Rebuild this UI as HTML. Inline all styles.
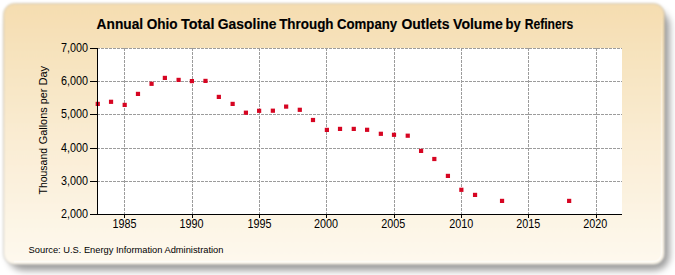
<!DOCTYPE html>
<html><head><meta charset="utf-8"><style>
html,body{margin:0;padding:0;background:#fff;width:675px;height:275px;overflow:hidden}
svg{display:block}
text{font-family:"Liberation Sans",sans-serif;fill:#000}
</style></head><body>
<svg width="675" height="275" viewBox="0 0 675 275">
<defs>
<linearGradient id="hl" gradientUnits="userSpaceOnUse" x1="0" y1="14" x2="0" y2="80"><stop offset="0" stop-color="#fff" stop-opacity="0"/><stop offset="1" stop-color="#fff" stop-opacity="0.45"/></linearGradient>
<linearGradient id="bg" x1="0" y1="0" x2="0" y2="1">
<stop offset="0" stop-color="#F5DDB0"/>
<stop offset="0.55" stop-color="#FAEDD5"/>
<stop offset="1" stop-color="#FEF9EE"/>
</linearGradient>
<filter id="sh" x="-5%" y="-10%" width="115%" height="125%">
<feGaussianBlur stdDeviation="3.5"/>
</filter>
<filter id="soft2" x="-2%" y="-2%" width="104%" height="104%"><feGaussianBlur stdDeviation="0.7"/></filter>
<filter id="soft" x="-2%" y="-2%" width="104%" height="104%"><feGaussianBlur stdDeviation="1.2"/></filter>
</defs>
<rect x="0" y="0" width="675" height="275" fill="#fff"/>
<rect x="8.5" y="10.5" width="661" height="260" rx="15" ry="15" fill="#000" fill-opacity="0.39" filter="url(#sh)"/>
<rect x="3.5" y="3.5" width="661" height="261" rx="11" ry="11" fill="url(#bg)" stroke="#8c8c8c" stroke-opacity="0.4" stroke-width="1" filter="url(#soft)"/>
<path d="M 661.5 14 L 661.5 252 Q 661.5 261.5 652 261.5 L 14 261.5" fill="none" stroke="url(#hl)" stroke-opacity="1" stroke-width="1.4" filter="url(#soft2)"/>
<rect x="98" y="48" width="524" height="166" fill="#fff"/>
<g stroke="#9c9c9c" stroke-width="1" stroke-dasharray="3 1" shape-rendering="crispEdges"><line x1="97" y1="48.5" x2="622" y2="48.5"/><line x1="97" y1="81.5" x2="622" y2="81.5"/><line x1="97" y1="114.5" x2="622" y2="114.5"/><line x1="97" y1="148.5" x2="622" y2="148.5"/><line x1="97" y1="181.5" x2="622" y2="181.5"/><line x1="124.5" y1="48" x2="124.5" y2="215"/><line x1="192.5" y1="48" x2="192.5" y2="215"/><line x1="259.5" y1="48" x2="259.5" y2="215"/><line x1="326.5" y1="48" x2="326.5" y2="215"/><line x1="394.5" y1="48" x2="394.5" y2="215"/><line x1="461.5" y1="48" x2="461.5" y2="215"/><line x1="528.5" y1="48" x2="528.5" y2="215"/><line x1="596.5" y1="48" x2="596.5" y2="215"/></g>
<g fill="#D60522"><rect x="95.65" y="101.80" width="4.2" height="4.2"/><rect x="108.94" y="99.70" width="4.2" height="4.2"/><rect x="122.59" y="102.80" width="4.2" height="4.2"/><rect x="135.88" y="91.80" width="4.2" height="4.2"/><rect x="149.47" y="81.70" width="4.2" height="4.2"/><rect x="162.77" y="75.80" width="4.2" height="4.2"/><rect x="176.51" y="77.80" width="4.2" height="4.2"/><rect x="189.80" y="79.00" width="4.2" height="4.2"/><rect x="203.39" y="78.80" width="4.2" height="4.2"/><rect x="216.74" y="94.80" width="4.2" height="4.2"/><rect x="230.53" y="101.80" width="4.2" height="4.2"/><rect x="243.82" y="110.60" width="4.2" height="4.2"/><rect x="257.02" y="108.70" width="4.2" height="4.2"/><rect x="270.76" y="108.60" width="4.2" height="4.2"/><rect x="284.05" y="104.50" width="4.2" height="4.2"/><rect x="297.69" y="107.70" width="4.2" height="4.2"/><rect x="310.89" y="117.90" width="4.2" height="4.2"/><rect x="324.78" y="127.80" width="4.2" height="4.2"/><rect x="337.92" y="126.80" width="4.2" height="4.2"/><rect x="351.67" y="126.80" width="4.2" height="4.2"/><rect x="365.01" y="127.70" width="4.2" height="4.2"/><rect x="378.75" y="131.70" width="4.2" height="4.2"/><rect x="391.90" y="132.70" width="4.2" height="4.2"/><rect x="405.64" y="133.60" width="4.2" height="4.2"/><rect x="418.98" y="148.80" width="4.2" height="4.2"/><rect x="432.23" y="156.90" width="4.2" height="4.2"/><rect x="445.82" y="173.80" width="4.2" height="4.2"/><rect x="459.26" y="187.70" width="4.2" height="4.2"/><rect x="472.95" y="192.80" width="4.2" height="4.2"/><rect x="499.94" y="198.80" width="4.2" height="4.2"/><rect x="567.05" y="198.80" width="4.2" height="4.2"/></g>
<g stroke="#000" stroke-width="1" shape-rendering="crispEdges"><line x1="97.5" y1="48" x2="97.5" y2="215"/><line x1="97" y1="214.5" x2="622" y2="214.5"/><line x1="90" y1="48.5" x2="98" y2="48.5"/><line x1="90" y1="81.5" x2="98" y2="81.5"/><line x1="90" y1="114.5" x2="98" y2="114.5"/><line x1="90" y1="148.5" x2="98" y2="148.5"/><line x1="90" y1="181.5" x2="98" y2="181.5"/><line x1="90" y1="214.5" x2="98" y2="214.5"/><line x1="124.5" y1="214" x2="124.5" y2="218"/><line x1="192.5" y1="214" x2="192.5" y2="218"/><line x1="259.5" y1="214" x2="259.5" y2="218"/><line x1="326.5" y1="214" x2="326.5" y2="218"/><line x1="394.5" y1="214" x2="394.5" y2="218"/><line x1="461.5" y1="214" x2="461.5" y2="218"/><line x1="528.5" y1="214" x2="528.5" y2="218"/><line x1="596.5" y1="214" x2="596.5" y2="218"/></g>
<text transform="translate(88.0,52.0) scale(0.9,1)" font-size="12" text-anchor="end">7,000</text><text transform="translate(88.0,85.0) scale(0.9,1)" font-size="12" text-anchor="end">6,000</text><text transform="translate(88.0,118.0) scale(0.9,1)" font-size="12" text-anchor="end">5,000</text><text transform="translate(88.0,152.0) scale(0.9,1)" font-size="12" text-anchor="end">4,000</text><text transform="translate(88.0,185.0) scale(0.9,1)" font-size="12" text-anchor="end">3,000</text><text transform="translate(88.0,218.0) scale(0.9,1)" font-size="12" text-anchor="end">2,000</text><text transform="translate(124.5,227.8) scale(0.9,1)" font-size="12" text-anchor="middle">1985</text><text transform="translate(191.5,227.8) scale(0.9,1)" font-size="12" text-anchor="middle">1990</text><text transform="translate(259.5,227.8) scale(0.9,1)" font-size="12" text-anchor="middle">1995</text><text transform="translate(326.0,227.8) scale(0.9,1)" font-size="12" text-anchor="middle">2000</text><text transform="translate(393.2,227.8) scale(0.9,1)" font-size="12" text-anchor="middle">2005</text><text transform="translate(461.2,227.8) scale(0.9,1)" font-size="12" text-anchor="middle">2010</text><text transform="translate(528.2,227.8) scale(0.9,1)" font-size="12" text-anchor="middle">2015</text><text transform="translate(595.2,227.8) scale(0.9,1)" font-size="12" text-anchor="middle">2020</text>
<g font-size="14" font-weight="bold" stroke="#000" stroke-width="0.15"><text transform="translate(96.61,28.7) scale(0.9804,1)">Annual</text><text transform="translate(146.72,28.7) scale(0.9691,1)">Ohio</text><text transform="translate(181.04,28.7) scale(1.0304,1)">Total</text><text transform="translate(217.80,28.7) scale(0.9923,1)">Gasoline</text><text transform="translate(279.16,28.7) scale(0.9586,1)">Through</text><text transform="translate(336.93,28.7) scale(0.9460,1)">Company</text><text transform="translate(401.40,28.7) scale(0.9989,1)">Outlets</text><text transform="translate(453.05,28.7) scale(1.0051,1)">Volume</text><text transform="translate(505.57,28.7) scale(0.9311,1)">by</text><text transform="translate(524.63,28.7) scale(0.8697,1)">Refiners</text></g>
<g font-size="11.6"><text transform="translate(46.8,194.43) rotate(-90) scale(0.9010,1)">Thousand</text><text transform="translate(46.8,144.27) rotate(-90) scale(0.9403,1)">Gallons</text><text transform="translate(46.8,104.20) rotate(-90) scale(0.9270,1)">per</text><text transform="translate(46.8,85.55) rotate(-90) scale(0.9538,1)">Day</text></g>
<text x="28.6" y="253" font-size="9.3">Source: U.S. Energy Information Administration</text>
</svg>
</body></html>
